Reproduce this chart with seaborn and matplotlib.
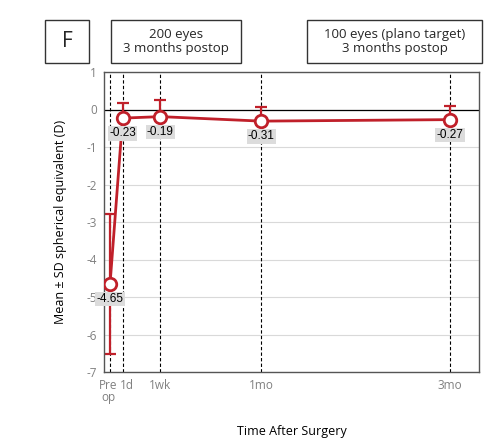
import matplotlib
matplotlib.use("Agg")
import matplotlib.pyplot as plt
import matplotlib.transforms as mtransforms
import seaborn as sns
import pandas as pd

# Follow-up visits and refraction summary
visits = ["Pre\nop", "1d", "1wk", "1mo", "3mo"]
visit_pos = [0, 1, 4, 12, 27]
mean_se = [-4.65, -0.23, -0.19, -0.31, -0.27]
sd_se = [1.86, 0.40, 0.44, 0.38, 0.36]
value_labels = ["-4.65", "-0.23", "-0.19", "-0.31", "-0.27"]
y_ticks = [1, 0, -1, -2, -3, -4, -5, -6, -7]

df = pd.DataFrame({"pos": visit_pos, "mean": mean_se, "sd": sd_se})

sns.set_style("white")
plt.rcParams["font.family"] = ["Open Sans", "DejaVu Sans"]

red = "#C0202A"
fig = plt.figure(figsize=(4.87, 4.38), dpi=100)
ax = fig.add_axes([104 / 487, 1 - 372 / 438, 375 / 487, 300 / 438])

ax.set_xlim(-0.48, 29.3)
ax.set_ylim(-7, 1)

# horizontal grid and zero line
for t in y_ticks:
    ax.axhline(t, color="#d9d9d9", lw=0.8, zorder=0)
ax.axhline(0, color="black", lw=0.9, zorder=1)

# vertical dashed markers at each visit
for p in visit_pos:
    ax.axvline(p, color="black", lw=0.8, ls=(0, (3, 2)), zorder=1)

# error bars: both sides for pre-op, upper only afterwards
for i, row in df.iterrows():
    lower = row["sd"] if i == 0 else 0
    ax.errorbar(row["pos"], row["mean"], yerr=[[lower], [row["sd"]]],
                fmt="none", ecolor=red, elinewidth=1.6, capsize=4,
                capthick=1.6, zorder=2)

sns.lineplot(data=df, x="pos", y="mean", ax=ax, color=red, lw=2,
             marker="o", markersize=9, markerfacecolor="white",
             markeredgecolor=red, markeredgewidth=2, zorder=3)

for p, m, lab in zip(visit_pos, mean_se, value_labels):
    ax.annotate(lab, (p, m), xytext=(0, -11), textcoords="offset points",
                ha="center", va="center", fontsize=8.5,
                family="Liberation Sans", color="black", zorder=4,
                bbox=dict(boxstyle="square,pad=0.1", fc="#dcdcdc", ec="none"))

ax.set_yticks(y_ticks)
ax.set_yticklabels([str(t) for t in y_ticks])
ax.set_xticks(visit_pos)
ax.set_xticklabels(visits, linespacing=0.9)
ax.tick_params(axis="both", colors="#808080", labelsize=8.5, length=3,
               direction="out", pad=2)
# nudge the crowded first two tick labels apart
xt = ax.get_xticklabels()
xt[0].set_transform(xt[0].get_transform() +
                    mtransforms.ScaledTranslation(-2 / 100, 0, fig.dpi_scale_trans))
xt[1].set_transform(xt[1].get_transform() +
                    mtransforms.ScaledTranslation(4 / 100, 0, fig.dpi_scale_trans))

ax.set_xlabel("Time After Surgery", fontsize=9, color="black")
ax.xaxis.set_label_coords(0.5, -53 / 300)
ax.set_ylabel("Mean \u00b1 SD spherical equivalent (D)", fontsize=9,
              color="black")
ax.yaxis.set_label_coords(-37 / 375, 0.5)
for s in ax.spines.values():
    s.set_color("#555555")
    s.set_linewidth(1.0)

# panel letter and study annotations
def boxed(x0, y0, w, h, text, size):
    fig.patches.append(plt.Rectangle((x0 / 487, 1 - (y0 + h) / 438), w / 487, h / 438,
                                     transform=fig.transFigure, fill=False,
                                     ec="#333333", lw=1.0))
    fig.text((x0 + w / 2) / 487, 1 - (y0 + h / 2) / 438, text, ha="center",
             va="center", fontsize=size, linespacing=1.1)

boxed(45, 20, 44, 43, "F", 15)
boxed(111, 20, 130, 43, "200 eyes\n3 months postop", 9.5)
boxed(307, 20, 175, 43, "100 eyes (plano target)\n3 months postop", 9.5)

fig.savefig("out.png", dpi=100)
